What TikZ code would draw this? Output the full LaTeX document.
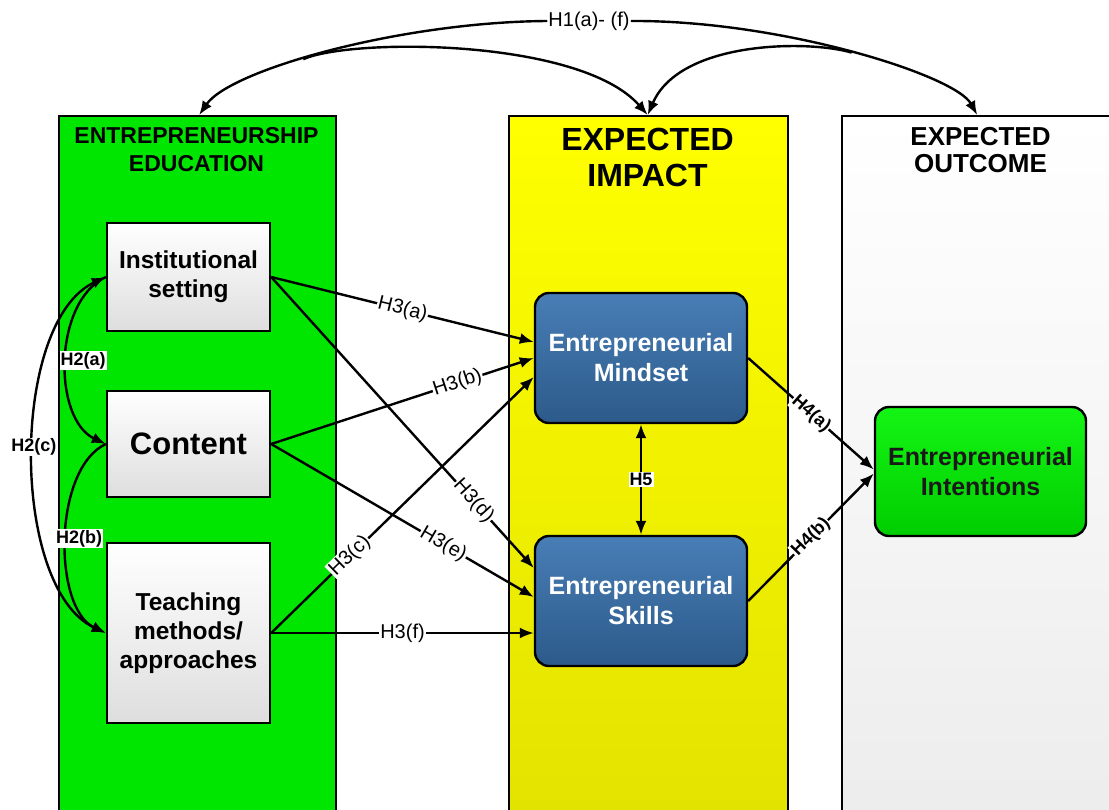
\documentclass[tikz,border=0pt]{standalone}
\usepackage{fontspec}
\setmainfont{Liberation Sans}
\usetikzlibrary{arrows.meta}

\definecolor{edugreen}{RGB}{0,230,0}
\definecolor{impacttop}{RGB}{255,255,0}
\definecolor{impactbot}{RGB}{226,226,0}
\definecolor{outbot}{RGB}{236,236,236}
\definecolor{boxgray}{RGB}{222,222,222}
\definecolor{bluetop}{RGB}{72,126,182}
\definecolor{bluebot}{RGB}{44,90,138}
\definecolor{intenttop}{RGB}{20,245,20}
\definecolor{intentbot}{RGB}{0,205,0}

\begin{document}
\begin{tikzpicture}[x=1pt,y=-1pt]

\tikzset{panel/.style = {draw, line width=2.4pt, anchor=north west, inner sep=0pt, minimum height=720pt}}
\tikzset{title/.style = {align=center, font=\bfseries}}
\tikzset{box/.style = {draw, line width=2.4pt, top color=white, bottom color=boxgray, inner sep=0pt,
  align=center, text width=160pt, minimum width=163pt, font=\fontsize{24.5}{29}\selectfont\bfseries}}
\tikzset{bluebox/.style = {box, rounded corners=14pt, top color=bluetop, bottom color=bluebot, text=white,
  text width=205pt, minimum width=212pt, minimum height=130pt, font=\fontsize{25}{30}\selectfont\bfseries}}
\tikzset{edge/.style = {->, > = {Latex[length=14pt,width=11pt]}, line width=2.4pt}}
\tikzset{lbl/.style = {fill=white, inner sep=1pt, font=\fontsize{20}{20}\selectfont}}
\tikzset{blbl/.style = {lbl, font=\fontsize{18}{18}\selectfont\bfseries}}

\useasboundingbox (0,0) rectangle (1109,809);
\clip (0,0) rectangle (1109,809);

%panels
\node[panel, fill=edugreen, minimum width=277pt] (edu) at (58,115) {};
\node[panel, top color=impacttop, bottom color=impactbot, minimum width=279pt] (impact) at (508,115) {};
\node[panel, top color=white, bottom color=outbot, minimum width=274pt] (outcome) at (841,115) {};
\node[title, font=\fontsize{23}{28}\selectfont\bfseries] (eduT) at (196.5,150) {ENTREPRENEURSHIP\\EDUCATION};
\node[title, font=\fontsize{32}{36}\selectfont\bfseries] (impactT) at (647.5,157) {EXPECTED\\IMPACT};
\node[title, font=\fontsize{26}{27}\selectfont\bfseries] (outcomeT) at (980.5,150) {EXPECTED\\OUTCOME};

%boxes
\node[box, minimum height=108pt] (inst) at (188.5,277) {Institutional\\setting};
\node[box, minimum height=106pt, font=\fontsize{31}{34}\selectfont\bfseries] (content) at (188.5,444) {Content};
\node[box, minimum height=180pt] (teach) at (188.5,633) {Teaching\\methods/\\approaches};
\node[bluebox] (mind) at (641,358) {Entrepreneurial\\Mindset};
\node[bluebox] (skill) at (641,601) {Entrepreneurial\\Skills};
\node[bluebox, top color=intenttop, bottom color=intentbot, text=black!90, minimum width=211pt,
  minimum height=129pt] (intent) at (980.5,471.5) {Entrepreneurial\\Intentions};

%H1
\node[lbl] (h1) at (589,21) {H1(a)- (f)};
\draw[edge] (h1.west) .. controls (400,22) and (230,70) .. ([xshift=1.5pt]edu.north) coordinate[pos=0.57] (b1);
\draw[edge] (h1.east) .. controls (780,20) and (955,75) .. ([xshift=-2pt]outcome.north) coordinate[pos=0.5] (b2);
\draw[edge] (b1) .. controls (350,38) and (580,38) .. ([xshift=-1pt]impact.north);
\draw[edge] (b2) .. controls (810,40) and (680,40) .. ([xshift=-1pt]impact.north);

%H2
\draw[edge] (inst.west) .. controls +(-53,25) and +(-53,-25) .. (content.west) node[blbl, midway, xshift=17pt] {H2(a)};
\draw[edge] (content.west) .. controls +(-53,25) and +(-53,-25) .. (teach.west) node[blbl, midway, xshift=13pt] {H2(b)};
\draw[edge, <->] (inst.west) .. controls +(-96,45) and +(-96,-45) .. (teach.west) node[blbl, midway, yshift=8pt] {H2(c)};

%H3
\draw[edge] (inst.east) -- node[lbl, sloped, pos=0.5] {H3(a)} ([yshift=16pt]mind.west);
\draw[edge] (content.east) -- node[lbl, sloped, pos=0.71] {H3(b)} (mind.west);
\draw[edge] (teach.east) -- node[lbl, sloped, pos=0.3] {H3(c)} ([yshift=-19pt]mind.west);
\draw[edge] (inst.east) -- node[lbl, sloped, pos=0.77] {H3(d)} ([yshift=33pt]skill.west);
\draw[edge] (content.east) -- node[lbl, sloped, pos=0.655] {H3(e)} ([yshift=4pt]skill.west);
\draw[edge] (teach.east) -- node[lbl, pos=0.5] {H3(f)} ([yshift=-32pt]skill.west);

%H4, H5
\draw[edge] (mind.east) -- node[blbl, sloped, midway] {H4(a)} ([yshift=2pt]intent.west);
\draw[edge] (skill.east) -- node[blbl, sloped, midway] {H4(b)} ([yshift=-2pt]intent.west);
\draw[edge, <->] (mind.south) -- node[blbl, midway] {H5} (skill.north);

\end{tikzpicture}
\end{document}
